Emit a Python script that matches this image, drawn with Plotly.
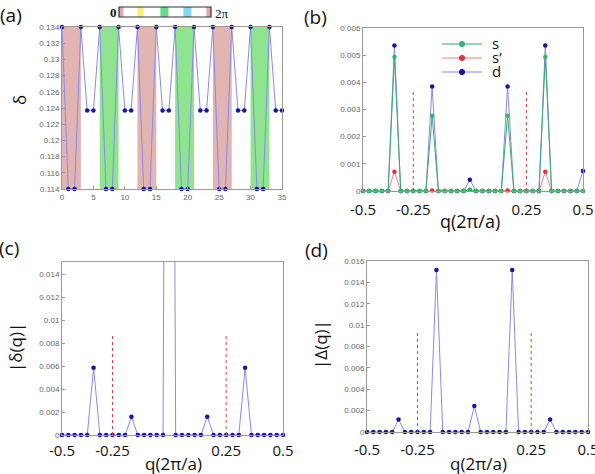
import plotly.graph_objects as go

W, H = 595, 474

# ---------------- data ----------------
# panel (a): site index and delta
site = list(range(36))
delta = [0.134, 0.114, 0.114, 0.134, 0.1237, 0.1237,
         0.134, 0.114, 0.114, 0.134, 0.1237, 0.1237,
         0.134, 0.114, 0.114, 0.134, 0.1237, 0.1237,
         0.134, 0.114, 0.114, 0.134, 0.1237, 0.1237,
         0.134, 0.114, 0.114, 0.134, 0.1237, 0.1237,
         0.134, 0.114, 0.114, 0.134, 0.1237, 0.1237]
pink_band_start = [0, 12, 24]
green_band_start = [6, 18, 30]
band_width = 3

# colour bar (phase 0 .. 2pi)
cb_edges = [0, 0.05, 0.2, 0.27, 0.45, 0.54, 0.7, 0.79, 0.95, 1.0]
cb_colors = ["#e8a4ac", "#ffffff", "#f5f07a", "#ffffff", "#5fe08a",
             "#ffffff", "#86d6f5", "#ffffff", "#e8a4ac"]

# q axis (36 points between -0.5 and 0.5)
q = [-0.5 + i / 35 for i in range(36)]
q_dash = [q[8], q[26]]
q_tickvals = [q[0], q[8], q[26], q[35]]
q_ticktext = ["-0.5", "-0.25", "0.25", "0.5"]

def spikes(pairs):
    v = [0.0] * 36
    for i, val in pairs:
        v[i] = val
    return v

# panel (b)
s_vals = spikes([(5, 0.00493), (11, 0.00277), (17, 0.00004), (23, 0.00277), (29, 0.00493)])
sp_vals = spikes([(5, 0.00071), (11, 0.00002), (17, 0.00005), (23, 0.00002), (29, 0.00071)])
d_vals = spikes([(5, 0.00536), (11, 0.00385), (17, 0.00041), (23, 0.00385), (29, 0.00536), (35, 0.00074)])
dash_b = 0.0037
legend_names = ["s", "s\u2019", "d"]

# panel (c)
dq_vals = spikes([(5, 0.00587), (11, 0.0016), (17, 0.1239), (23, 0.0016), (29, 0.00587)])
dash_c = 0.0088
ymax_c = 0.0151

# panel (d)
Dq_vals = spikes([(5, 0.00117), (11, 0.01515), (17, 0.00243), (23, 0.01515), (29, 0.00117)])
dash_d = 0.0094

# ---------------- styling ----------------
LINE_BLUE = "#8a8ae8"
DOT_BLUE = "#1414a8"
GREEN = "#2fb86a"
GREEN_LINE = "#3aa878"
RED = "#e8303a"
RED_LINE = "#f08080"
DASH_RED = "#d04848"
MS = 4.5

def px_x(x0, x1):
    return [x0 / W, x1 / W]

def px_y(top, bottom):
    return [1 - bottom / H, 1 - top / H]

fig = go.Figure()

# (a)
fig.add_trace(go.Scatter(x=site, y=delta, mode="lines+markers",
                         line=dict(color=LINE_BLUE, width=1),
                         marker=dict(color=DOT_BLUE, size=MS),
                         cliponaxis=False, showlegend=False,
                         xaxis="x", yaxis="y"))

# (b)
fig.add_trace(go.Scatter(x=q, y=d_vals, mode="lines+markers", name="d",
                         line=dict(color=LINE_BLUE, width=1),
                         marker=dict(color=DOT_BLUE, size=MS), showlegend=False,
                         cliponaxis=False, xaxis="x2", yaxis="y2"))
fig.add_trace(go.Scatter(x=q, y=sp_vals, mode="lines+markers", name="s\u2019",
                         line=dict(color=RED_LINE, width=1),
                         marker=dict(color=RED, size=MS), showlegend=False,
                         cliponaxis=False, xaxis="x2", yaxis="y2"))
fig.add_trace(go.Scatter(x=q, y=s_vals, mode="lines+markers", name="s",
                         line=dict(color=GREEN_LINE, width=1),
                         marker=dict(color=GREEN, size=MS), showlegend=False,
                         cliponaxis=False, xaxis="x2", yaxis="y2"))
for xd in q_dash:
    fig.add_trace(go.Scatter(x=[xd, xd], y=[0, dash_b], mode="lines",
                             line=dict(color=DASH_RED, width=1, dash="dot"),
                             showlegend=False, xaxis="x2", yaxis="y2"))

# (c)
fig.add_trace(go.Scatter(x=q, y=dq_vals, mode="lines",
                         line=dict(color=LINE_BLUE, width=1),
                         showlegend=False, xaxis="x3", yaxis="y3"))
fig.add_trace(go.Scatter(x=q, y=[v if v <= ymax_c else None for v in dq_vals],
                         mode="markers", marker=dict(color=DOT_BLUE, size=MS),
                         cliponaxis=False, showlegend=False, xaxis="x3", yaxis="y3"))
for xd in q_dash:
    fig.add_trace(go.Scatter(x=[xd, xd], y=[0, dash_c], mode="lines",
                             line=dict(color=DASH_RED, width=1, dash="dot"),
                             showlegend=False, xaxis="x3", yaxis="y3"))

# (d)
fig.add_trace(go.Scatter(x=q, y=Dq_vals, mode="lines+markers",
                         line=dict(color=LINE_BLUE, width=1),
                         marker=dict(color=DOT_BLUE, size=MS),
                         cliponaxis=False, showlegend=False, xaxis="x4", yaxis="y4"))
for xd in q_dash:
    fig.add_trace(go.Scatter(x=[xd, xd], y=[0, dash_d], mode="lines",
                             line=dict(color=DASH_RED, width=1, dash="dot"),
                             showlegend=False, xaxis="x4", yaxis="y4"))

SMALL = dict(family="Liberation Sans, Arial", size=8, color="#666")
BIG = dict(family="Open Sans, Arial", size=15, color="#111")
FRAME = dict(showline=True, linecolor="#999", linewidth=1, mirror=True,
             showgrid=False, zeroline=False, automargin=False)

shapes = []
for xs in pink_band_start:
    shapes.append(dict(type="rect", xref="x", yref="y domain", x0=xs, x1=xs + band_width,
                       y0=0, y1=1, fillcolor="#e2b5b3", line_width=0, layer="below"))
for xs in green_band_start:
    shapes.append(dict(type="rect", xref="x", yref="y domain", x0=xs, x1=xs + band_width,
                       y0=0, y1=1, fillcolor="#8fe48f", line_width=0, layer="below"))

# colour bar
cbx0, cbx1, cby0, cby1 = 119, 211, 7, 17
for i, c in enumerate(cb_colors):
    shapes.append(dict(type="rect", xref="paper", yref="paper",
                       x0=(cbx0 + (cbx1 - cbx0) * cb_edges[i]) / W,
                       x1=(cbx0 + (cbx1 - cbx0) * cb_edges[i + 1]) / W,
                       y0=1 - cby1 / H, y1=1 - cby0 / H, fillcolor=c, line_width=0))
shapes.append(dict(type="rect", xref="paper", yref="paper",
                   x0=cbx0 / W, x1=cbx1 / W, y0=1 - cby1 / H, y1=1 - cby0 / H,
                   line=dict(color="#333", width=1.2)))

def ann(text, x, y, size, family="Open Sans, Arial", rot=0, color="#111", xanchor="center"):
    return dict(text=text, x=x / W, y=1 - y / H, xref="paper", yref="paper",
                showarrow=False, textangle=rot, xanchor=xanchor, yanchor="middle",
                font=dict(family=family, size=size, color=color))

annotations = [
    ann("(a)", 11, 15, 19),
    ann("(b)", 315, 17, 19),
    ann("(c)", 9, 248, 19),
    ann("(d)", 316, 250, 19),
    ann("<b>0</b>", 113, 12, 13, family="Liberation Serif, Times New Roman"),
    ann("2\u03c0", 222, 13, 13, family="Liberation Serif, Times New Roman"),
    ann("\u03b4", 20, 100, 17, rot=-90),
    ann("|\u03b4(q)|", 15, 348, 17, rot=-90),
    ann("|\u0394(q)|", 320, 345, 17, rot=-90),
    ann("q(2\u03c0/a)", 470, 221, 18),
    ann("q(2\u03c0/a)", 173, 463, 17),
    ann("q(2\u03c0/a)", 478, 463, 17),
]

# manual legend for panel (b)
leg_colors = [(GREEN_LINE, GREEN), (RED_LINE, RED), (LINE_BLUE, DOT_BLUE)]
leg_rows = [44, 58, 72]
for name, (lc, mc), yy in zip(legend_names, leg_colors, leg_rows):
    shapes.append(dict(type="line", xref="paper", yref="paper",
                       x0=442 / W, x1=482 / W, y0=1 - yy / H, y1=1 - yy / H,
                       line=dict(color=lc, width=1.2)))
    shapes.append(dict(type="circle", xref="paper", yref="paper",
                       x0=(462 - 2.6) / W, x1=(462 + 2.6) / W,
                       y0=1 - (yy + 2.6) / H, y1=1 - (yy - 2.6) / H,
                       fillcolor=mc, line=dict(color=mc, width=1)))
    annotations.append(ann(name, 490, yy - 1, 15, xanchor="left"))

yb_vals = [0, 0.001, 0.002, 0.003, 0.004, 0.005, 0.006]
yb_text = ["0", "0.001", "0.002", "0.003", "0.004", "0.005", "0.006"]
ya_vals = [0.114, 0.116, 0.118, 0.12, 0.122, 0.124, 0.126, 0.128, 0.13, 0.132, 0.134]
ya_text = ["0.114", "0.116", "0.118", "0.12", "0.122", "0.124", "0.126", "0.128", "0.13", "0.132", "0.134"]
yc_vals = [0, 0.002, 0.004, 0.006, 0.008, 0.01, 0.012, 0.014]
yc_text = ["0", "0.002", "0.004", "0.006", "0.008", "0.01", "0.012", "0.014"]
yd_vals = [0, 0.002, 0.004, 0.006, 0.008, 0.01, 0.012, 0.014, 0.016]
yd_text = ["0", "0.002", "0.004", "0.006", "0.008", "0.01", "0.012", "0.014", "0.016"]

def qx(standoff):
    return dict(range=[-0.5, 0.5], tickmode="array", tickvals=q_tickvals, ticktext=q_ticktext,
                tickfont=BIG, ticks="", ticklabeloverflow="allow",
                ticklabelstandoff=standoff, **FRAME)

fig.update_layout(
    width=W, height=H, margin=dict(l=0, r=0, t=0, b=0, autoexpand=False),
    paper_bgcolor="white", plot_bgcolor="white", showlegend=False,
    xaxis=dict(domain=px_x(62, 282), range=[0, 35], tickmode="array",
               tickvals=[0, 5, 10, 15, 20, 25, 30, 35], tickfont=SMALL,
               ticks="inside", ticklen=3, tickcolor="#999", anchor="y", **FRAME),
    yaxis=dict(domain=px_y(27, 189), range=[0.114, 0.134], tickmode="array",
               tickvals=ya_vals, ticktext=ya_text, tickfont=SMALL,
               ticks="inside", ticklen=3, tickcolor="#999", anchor="x", **FRAME),
    xaxis2=dict(domain=px_x(363, 583), anchor="y2", **qx(5)),
    yaxis2=dict(domain=px_y(28, 191), range=[0, 0.006], tickmode="array",
                tickvals=yb_vals, ticktext=yb_text, tickfont=SMALL,
                ticks="inside", ticklen=3, tickcolor="#999", anchor="x2", **FRAME),
    xaxis3=dict(domain=px_x(62, 283), anchor="y3", **qx(2)),
    yaxis3=dict(domain=px_y(262, 435), range=[0, ymax_c], tickmode="array",
                tickvals=yc_vals, ticktext=yc_text, tickfont=SMALL,
                ticks="inside", ticklen=3, tickcolor="#999", anchor="x3", **FRAME),
    xaxis4=dict(domain=px_x(367, 588), anchor="y4", **qx(4)),
    yaxis4=dict(domain=px_y(261, 432), range=[0, 0.016], tickmode="array",
                tickvals=yd_vals, ticktext=yd_text, tickfont=SMALL,
                ticks="inside", ticklen=3, tickcolor="#999", anchor="x4", **FRAME),
    shapes=shapes, annotations=annotations,
)

fig.write_html("out.html")
